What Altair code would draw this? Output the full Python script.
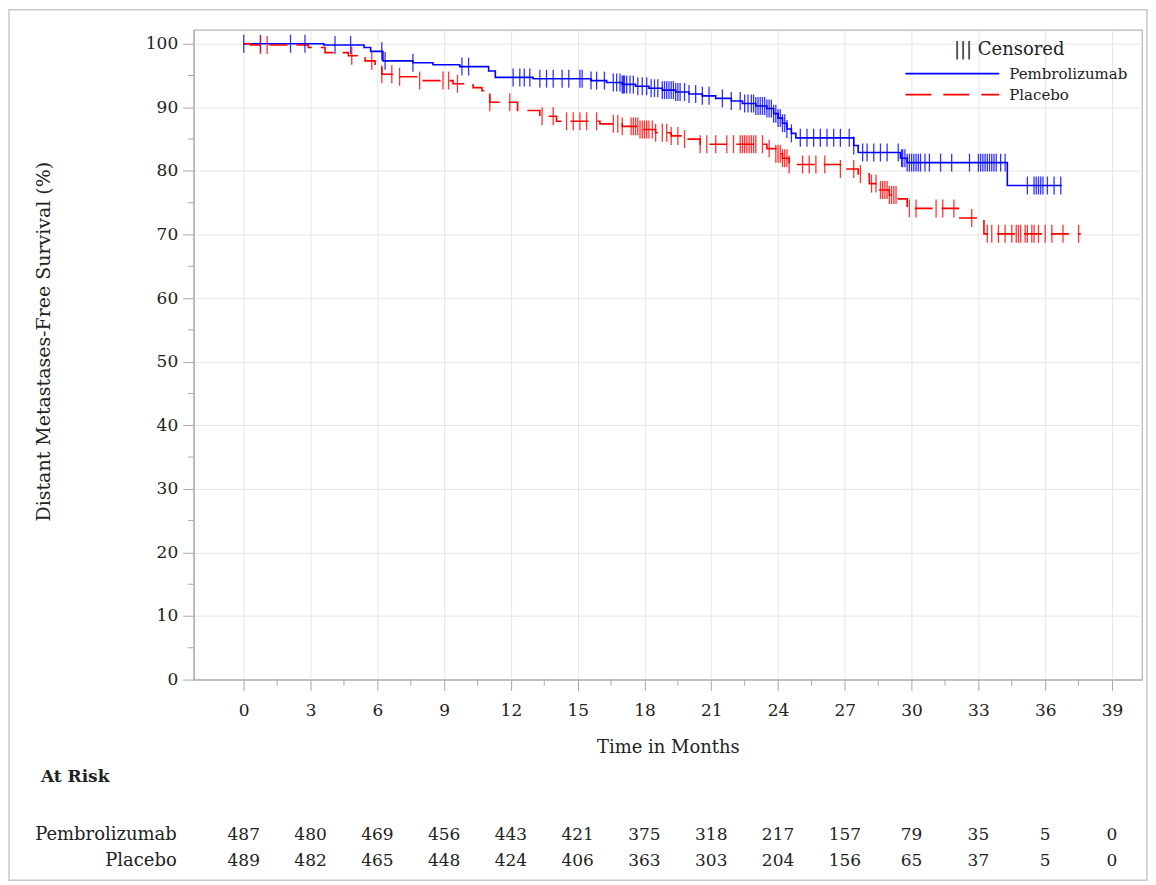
import altair as alt
import pandas as pd

groups = ["Pembrolizumab", "Placebo"]
colors = ["#0000FF", "#FF0000"]

# Kaplan-Meier step points (time in months, survival %)
pem_t = [0, 3.6, 5.4, 5.7, 6.25, 7.6, 8.5, 9.7, 11.0, 11.3, 13.0, 15.6, 16.3, 17.0, 17.6, 18.2,
         18.8, 19.4, 20.0, 20.6, 21.2, 21.9, 22.4, 23.0, 23.5, 23.8, 24.0, 24.2, 24.4, 24.6, 24.8,
         27.4, 27.6, 29.5, 29.8, 34.3]
pem_s = [100, 99.8, 99.4, 98.8, 97.3, 97.0, 96.7, 96.4, 95.7, 94.7, 94.5, 94.2, 93.9, 93.6, 93.3, 93.0,
         92.7, 92.4, 92.1, 91.8, 91.4, 91.0, 90.6, 90.2, 89.8, 89.0, 88.3, 87.5, 86.6, 85.9, 85.2,
         84.0, 82.9, 82.0, 81.3, 77.7]
pem_end = 36.75
pem_cens = [0.0, 0.75, 2.1, 2.75, 4.1, 4.8, 6.2, 6.35, 7.6, 9.8, 10.1,
            12.1, 12.4, 12.6, 12.85, 13.3, 13.6, 13.9, 14.3, 14.6, 15.1, 15.2, 15.6, 15.85, 16.2,
            16.6, 16.75, 16.9, 17.0, 17.05, 17.1, 17.2, 17.35, 17.5, 17.7, 17.9, 18.1, 18.3, 18.45,
            18.6, 18.8, 18.9, 19.0, 19.1, 19.2, 19.3, 19.4, 19.5, 19.6, 19.8, 20.0, 20.3, 20.6,
            20.9, 21.5, 21.9, 22.3, 22.5, 22.65, 22.8, 22.9, 23.0, 23.1, 23.2, 23.3, 23.4, 23.5,
            23.6, 23.7, 23.8, 23.9, 24.0, 24.1, 24.2, 24.3, 24.4, 24.6, 25.0, 25.3, 25.6, 25.9,
            26.2, 26.5, 26.8, 27.2, 27.4, 27.8, 28.0, 28.3, 28.6, 28.9, 29.4, 29.55, 29.6, 29.7,
            29.8, 29.9, 30.0, 30.1, 30.2, 30.3, 30.4, 30.6, 30.8, 31.3, 31.8, 32.6, 33.0, 33.1,
            33.2, 33.3, 33.4, 33.5, 33.6, 33.7, 33.8, 34.0, 34.2, 35.2, 35.5, 35.6, 35.7, 35.8,
            35.9, 36.1, 36.4, 36.7]

pla_t = [0, 0.3, 2.9, 3.65, 4.7, 5.1, 5.45, 5.9, 6.2, 6.9, 7.9, 9.4, 10.3, 10.7, 11.05, 12.3,
         13.3, 14.05, 16.0, 17.0, 17.8, 18.5, 19.2, 19.7, 20.5, 23.5, 23.9, 24.2, 24.5, 26.8,
         27.6, 28.1, 28.5, 29.0, 29.4, 29.8, 32.1, 33.25]
pla_s = [100, 99.8, 99.4, 98.6, 98.1, 97.8, 97.3, 96.2, 95.2, 94.8, 94.2, 93.7, 93.1, 92.6, 90.8, 89.5,
         88.6, 87.8, 87.4, 87.0, 86.5, 86.0, 85.5, 85.0, 84.2, 83.5, 82.7, 82.0, 81.0, 80.3,
         79.5, 78.0, 77.0, 76.2, 75.6, 74.1, 72.6, 70.1]
pla_end = 37.6
pla_cens = [0.75, 1.05, 4.85, 5.75, 6.2, 6.65, 7.0, 7.9, 8.95, 9.2, 9.6, 11.05, 11.95, 13.4, 13.9,
            14.5, 14.8, 15.1, 15.4, 15.85, 16.6, 16.8, 17.0, 17.4, 17.5, 17.6, 17.7, 17.8, 17.9,
            18.0, 18.1, 18.2, 18.35, 18.5, 18.8, 19.0, 19.2, 19.5, 19.8, 20.5, 20.8, 21.2, 21.7,
            22.0, 22.3, 22.4, 22.5, 22.6, 22.7, 22.8, 22.9, 23.0, 23.3, 23.6, 23.9, 24.0, 24.1,
            24.2, 24.3, 24.4, 24.5, 25.1, 25.4, 25.7, 26.1, 26.8, 27.4, 27.7, 28.2, 28.4, 28.6,
            28.7, 28.8, 28.9, 29.0, 29.1, 29.2, 29.3, 29.9, 30.2, 31.1, 31.4, 31.9, 32.7, 33.4,
            33.6, 33.9, 34.2, 34.5, 34.7, 34.8, 34.9, 35.1, 35.2, 35.4, 35.5, 35.7, 36.0, 36.3,
            36.8, 37.5]

risk_times = [0, 3, 6, 9, 12, 15, 18, 21, 24, 27, 30, 33, 36, 39]
risk_pem = [487, 480, 469, 456, 443, 421, 375, 318, 217, 157, 79, 35, 5, 0]
risk_pla = [489, 482, 465, 448, 424, 406, 363, 303, 204, 156, 65, 37, 5, 0]

x_major = [0, 3, 6, 9, 12, 15, 18, 21, 24, 27, 30, 33, 36, 39]
x_minor = [1.5, 4.5, 7.5, 10.5, 13.5, 16.5, 19.5, 22.5, 25.5, 28.5, 31.5, 34.5, 37.5]
y_major = [0, 10, 20, 30, 40, 50, 60, 70, 80, 90, 100]
y_minor = [5, 15, 25, 35, 45, 55, 65, 75, 85, 95]

FONT = "DejaVu Serif"
W, H = 950, 651
TXT = "#222222"


def km_lookup(ts, ss, t):
    v = ss[0]
    for ti, si in zip(ts, ss):
        if ti <= t:
            v = si
    return v


line_rows = []
for g, ts, ss, end in [(groups[0], pem_t, pem_s, pem_end), (groups[1], pla_t, pla_s, pla_end)]:
    for ti, si in zip(ts, ss):
        line_rows.append({"group": g, "t": ti, "s": si})
    line_rows.append({"group": g, "t": end, "s": ss[-1]})
lines_df = pd.DataFrame(line_rows)

cens_rows = []
for g, ts, ss, cens in [(groups[0], pem_t, pem_s, pem_cens), (groups[1], pla_t, pla_s, pla_cens)]:
    for c in cens:
        cens_rows.append({"group": g, "t": c, "s": km_lookup(ts, ss, c)})
cens_df = pd.DataFrame(cens_rows)

xscale = alt.Scale(domain=[-2.25, 40.35], nice=False, zero=False)
yscale = alt.Scale(domain=[0, 102.2], nice=False)
cscale = alt.Scale(domain=groups, range=colors)
dscale = alt.Scale(domain=groups, range=[[1, 0], [18, 9]])

base_x = alt.X("t:Q", scale=xscale,
               axis=alt.Axis(values=x_major, title="Time in Months", grid=True,
                             gridColor="#e6e6e6", tickSize=11, labelPadding=12,
                             titlePadding=20, labelFontSize=17, titleFontSize=18,
                             labelFont=FONT, titleFont=FONT, titleFontWeight="normal",
                             domainColor="#a8a8a8", tickColor="#a8a8a8",
                             labelColor=TXT, titleColor=TXT, labelFlush=False))
base_y = alt.Y("s:Q", scale=yscale,
               axis=alt.Axis(values=y_major, title="Distant Metastases-Free Survival (%)",
                             grid=True, gridColor="#e6e6e6", tickSize=11, labelPadding=5,
                             titlePadding=92, labelFontSize=17, titleFontSize=19, titleY=312,
                             labelFont=FONT, titleFont=FONT, titleFontWeight="normal",
                             domainColor="#a8a8a8", tickColor="#a8a8a8",
                             labelColor=TXT, titleColor=TXT, labelFlush=False))

lines = alt.Chart(lines_df).mark_line(interpolate="step-after", strokeWidth=1.6).encode(
    x=base_x, y=base_y,
    color=alt.Color("group:N", scale=cscale, legend=None),
    strokeDash=alt.StrokeDash("group:N", scale=dscale, legend=None),
)

cens = alt.Chart(cens_df).mark_tick(orient="vertical", size=18, thickness=1.3, opacity=0.8).encode(
    x=alt.X("t:Q", scale=xscale),
    y=alt.Y("s:Q", scale=yscale),
    color=alt.Color("group:N", scale=cscale, legend=None),
)

# minor ticks
xminor = alt.Chart(pd.DataFrame({"t": x_minor})).mark_rule(color="#a8a8a8").encode(
    x=alt.X("t:Q", scale=xscale), y=alt.value(H), y2=alt.value(H + 6))
yminor = alt.Chart(pd.DataFrame({"s": y_minor})).mark_rule(color="#a8a8a8").encode(
    y=alt.Y("s:Q", scale=yscale), x=alt.value(-6), x2=alt.value(0))

one = pd.DataFrame({"a": [0]})

frame = alt.Chart(one).mark_rect(fillOpacity=0, stroke="#c8c8c8", strokeWidth=1.5).encode(
    x=alt.value(-185), x2=alt.value(955), y=alt.value(-20), y2=alt.value(852))

# legend
leg_title = alt.Chart(one).mark_text(font=FONT, fontSize=18, color=TXT, align="center",
                                     baseline="middle").encode(
    x=alt.value(817), y=alt.value(20), text=alt.value("||| Censored"))
leg_line1 = alt.Chart(one).mark_rule(color=colors[0], strokeWidth=1.6).encode(
    x=alt.value(713), x2=alt.value(807), y=alt.value(44))
leg_line2 = alt.Chart(one).mark_rule(color=colors[1], strokeWidth=1.6, strokeDash=[26, 12]).encode(
    x=alt.value(713), x2=alt.value(807), y=alt.value(65))
leg_lab1 = alt.Chart(one).mark_text(font=FONT, fontSize=15, color=TXT, align="left",
                                    baseline="middle").encode(
    x=alt.value(817), y=alt.value(44), text=alt.value(groups[0]))
leg_lab2 = alt.Chart(one).mark_text(font=FONT, fontSize=15, color=TXT, align="left",
                                    baseline="middle").encode(
    x=alt.value(817), y=alt.value(65), text=alt.value(groups[1]))

# at-risk table
at_risk_title = alt.Chart(one).mark_text(font=FONT, fontSize=17, fontWeight="bold", color=TXT,
                                         align="left", baseline="middle").encode(
    x=alt.value(-153), y=alt.value(749), text=alt.value("At Risk"))
risk_lab1 = alt.Chart(one).mark_text(font=FONT, fontSize=18, color=TXT, align="right",
                                     baseline="middle").encode(
    x=alt.value(-17), y=alt.value(807), text=alt.value(groups[0]))
risk_lab2 = alt.Chart(one).mark_text(font=FONT, fontSize=18, color=TXT, align="right",
                                     baseline="middle").encode(
    x=alt.value(-17), y=alt.value(833), text=alt.value(groups[1]))
risk1 = alt.Chart(pd.DataFrame({"t": risk_times, "n": risk_pem})).mark_text(
    font=FONT, fontSize=17, color=TXT, align="center", baseline="middle").encode(
    x=alt.X("t:Q", scale=xscale), y=alt.value(807), text="n:Q")
risk2 = alt.Chart(pd.DataFrame({"t": risk_times, "n": risk_pla})).mark_text(
    font=FONT, fontSize=17, color=TXT, align="center", baseline="middle").encode(
    x=alt.X("t:Q", scale=xscale), y=alt.value(833), text="n:Q")

chart = alt.layer(
    frame, lines, cens, xminor, yminor,
    leg_title, leg_line1, leg_line2, leg_lab1, leg_lab2,
    at_risk_title, risk_lab1, risk_lab2, risk1, risk2,
).properties(
    width=W, height=H, padding=0, background="white"
).configure_view(stroke="#b4b4b4", strokeWidth=1.2)

chart.save("out.html", embed_options={"renderer": "svg", "actions": False})
